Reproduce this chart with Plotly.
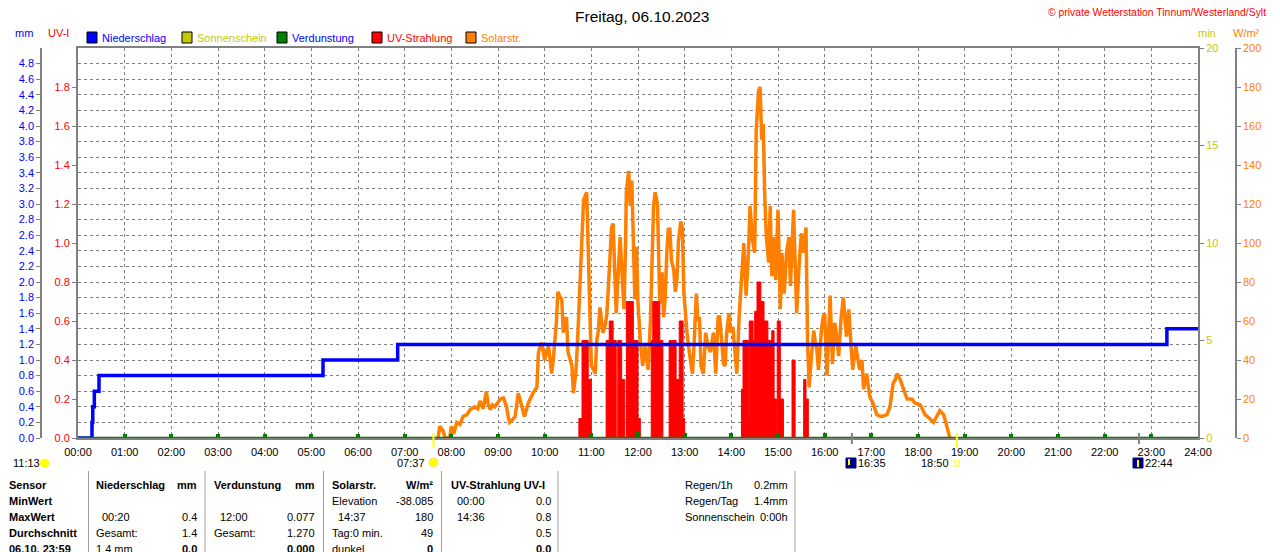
"""Tagesgrafik der Wetterstation Tinnum: Regen, Verdunstung, UV und Solarstrahlung."""

import plotly.graph_objects as go

OFF = 8  # page body margin in the browser
W, H = 1280 - OFF, 552 - OFF
PL, PR, PT, PB = 78, 1198, 48, 438  # plot box in reference pixels
FONT = "Liberation Sans, Arial, sans-serif"

BLUE = "#0000ff"
OLIVE = "#c8c800"
GREEN = "#008000"
RED = "#ff0000"
ORANGE = "#ff8000"
GREY = "#808080"
CLEAR = "rgba(0,0,0,0)"

# --- data (times in minutes after midnight) ---------------------------------
hour_ticks = [0, 60, 120, 180, 240, 300, 360, 420, 480, 540, 600, 660, 720,
              780, 840, 900, 960, 1020, 1080, 1140, 1200, 1260, 1320, 1380, 1440]
hour_labels = ["00:00", "01:00", "02:00", "03:00", "04:00", "05:00", "06:00",
               "07:00", "08:00", "09:00", "10:00", "11:00", "12:00", "13:00",
               "14:00", "15:00", "16:00", "17:00", "18:00", "19:00", "20:00",
               "21:00", "22:00", "23:00", "24:00"]

# sunshine minutes per hour (none today)
sun_min = [0, 0, 0, 0, 0, 0, 0, 0, 0, 0, 0, 0, 0,
           0, 0, 0, 0, 0, 0, 0, 0, 0, 0, 0, 0]

# solar radiation W/m² while the sensor reads above zero
solar_t = [463, 465, 469, 472, 478, 480, 483, 487, 491, 495, 500, 504,
           510, 514, 517, 521, 525, 527, 530, 533, 536, 540, 543, 547, 551, 553,
           555, 558, 562, 566, 570, 574, 579, 585, 590, 592, 596, 600, 603, 605,
           609, 611, 615, 617, 619, 622, 624, 626, 628, 630, 633, 635, 637, 640,
           642, 645, 648, 650, 652, 654, 656, 658, 660, 663, 665, 667, 669, 671,
           673, 675, 678, 680, 682, 684, 686, 688, 690, 692, 694, 697, 699, 702,
           704, 705, 708, 710, 712, 714, 716, 718, 720, 723, 726, 729, 731, 733,
           736, 738, 740, 742, 745, 748, 751, 753, 755, 757, 759, 761, 763, 766,
           768, 770, 772, 775, 777, 779, 781, 783, 786, 788, 790, 792, 795, 797,
           799, 801, 804, 807, 810, 813, 815, 817, 820, 823, 825, 828, 830, 832,
           834, 837, 839, 842, 845, 847, 850, 853, 856, 859, 862, 864, 867, 870,
           872, 875, 877, 879, 881, 883, 885, 888, 890, 892, 894, 897, 900, 903,
           905, 908, 911, 914, 916, 920, 924, 927, 930, 933, 936, 938, 940, 943,
           946, 948, 950, 952, 954, 956, 958, 960, 963, 965, 967, 970, 973, 976,
           978, 981, 984, 988, 991, 994, 996, 1000, 1005, 1008, 1010, 1014, 1018,
           1022, 1027, 1033, 1040, 1044, 1048, 1051, 1053, 1057, 1061, 1066, 1072,
           1076, 1083, 1089, 1095, 1100, 1104, 1108, 1113, 1117, 1120, 1121]
solar_w = [0, 6, 4, 0, 0, 6, 2, 8, 7, 11, 12, 14.5,
           16, 15, 19, 15, 24, 18, 14.5, 17, 16, 18, 20, 20.5, 16, 11,
           8, 9, 11, 23, 16, 11, 18, 23, 26, 44, 49, 40, 45, 47,
           33, 40, 59, 75, 73, 71, 54, 60, 62, 44, 40, 37, 23, 33,
           47, 79, 112, 122, 124, 126, 97, 66, 37, 35, 33, 50, 55, 67,
           60, 54, 58, 64, 78, 95, 108, 110, 86, 64, 80, 103, 88, 66,
           100, 126, 137, 119, 132, 102, 71, 98, 69, 50, 37, 47, 40, 35,
           60, 86, 119, 126, 120, 69, 85, 62, 72, 95, 107, 107, 91, 86,
           75, 81, 101, 111, 108, 74, 62, 54, 44, 38, 33, 47, 74, 60,
           62, 37, 33, 54, 47, 44, 50, 54, 33, 62, 62, 50, 38, 37,
           54, 64, 54, 57, 44, 33, 62, 81, 100, 73, 95, 119, 102, 95,
           158, 178, 180, 153, 161, 124, 103, 90, 119, 83, 103, 81, 117, 66,
           95, 74, 95, 103, 78, 117, 64, 88, 105, 95, 108, 50, 26, 42,
           55, 49, 45, 35, 47, 56, 62, 64, 32, 60, 73, 38, 59, 50,
           42, 61, 72, 52, 66, 47, 35, 47, 35, 40, 25, 33, 21,
           18, 12, 11, 12, 16, 28, 30, 33, 30, 26, 20, 20,
           18, 17, 12, 10, 8, 11, 14, 12, 6, 2, 0]

# UV index, step values (each holds until the next time)
uv_t = [0, 644, 648, 656, 660, 679, 683, 688, 692, 694, 699, 703, 705, 714,
        720, 723, 737, 739, 748, 752, 760, 769, 773, 778, 780, 853, 855, 862,
        863, 868, 870, 873, 878, 882, 887, 892, 895, 898, 899, 903, 907, 918,
        922, 933, 936, 939, 1440]
uv_v = [0, 0.1, 0.5, 0.3, 0, 0.5, 0.6, 0.5, 0, 0.5, 0.3, 0, 0.7, 0.5,
        0.1, 0, 0.5, 0.7, 0.5, 0, 0.5, 0.3, 0.6, 0.1, 0, 0.25, 0.5, 0.1,
        0.6, 0.5, 0.65, 0.8, 0.7, 0.6, 0.5, 0.55, 0.2, 0, 0.6, 0.2, 0, 0.4,
        0, 0.3, 0.2, 0, 0]

# cumulative rain, mm
rain_t = [0, 17, 18, 19, 21, 27, 315, 411, 1400, 1440]
rain_mm = [0, 0, 0.2, 0.4, 0.6, 0.8, 1.0, 1.2, 1.4, 1.4]

# hourly evaporation, mm
evap_t = [60, 120, 180, 240, 300, 360, 420, 480, 540, 600, 660, 720, 780,
          840, 900, 960, 1020, 1080, 1140, 1200, 1260, 1320, 1380]
evap_mm = [0.045, 0.045, 0.045, 0.045, 0.045, 0.045, 0.045, 0.045, 0.05,
           0.055, 0.065, 0.077, 0.07, 0.065, 0.065, 0.06, 0.06, 0.055, 0.05,
           0.045, 0.045, 0.045, 0.045]

sun_times = [457, 1130]      # 07:37, 18:50
moon_times = [995, 1364]     # 16:35, 22:44

mm_ticks = [0.0, 0.2, 0.4, 0.6, 0.8, 1.0, 1.2, 1.4, 1.6, 1.8, 2.0, 2.2, 2.4,
            2.6, 2.8, 3.0, 3.2, 3.4, 3.6, 3.8, 4.0, 4.2, 4.4, 4.6, 4.8]
uv_ticks = [0.0, 0.2, 0.4, 0.6, 0.8, 1.0, 1.2, 1.4, 1.6, 1.8]
min_ticks = [0, 5, 10, 15, 20]
wm2_ticks = [0, 20, 40, 60, 80, 100, 120, 140, 160, 180, 200]

legend_names = ["Niederschlag", "Sonnenschein", "Verdunstung", "UV-Strahlung", "Solarstr."]
legend_fill = [BLUE, OLIVE, GREEN, RED, ORANGE]
legend_text = [BLUE, OLIVE, BLUE, RED, ORANGE]

table_rows = ["Sensor", "MinWert", "MaxWert", "Durchschnitt", "06.10. 23:59"]
rain_col = [("Niederschlag", "mm"), ("", ""), ("00:20", "0.4"), ("Gesamt:", "1.4"), ("1.4 mm", "0.0")]
evap_col = [("Verdunstung", "mm"), ("", ""), ("12:00", "0.077"), ("Gesamt:", "1.270"), ("", "0.000")]
solar_col = [("Solarstr.", "W/m²"), ("Elevation", "-38.085"), ("14:37", "180"), ("Tag:0 min.", "49"), ("dunkel", "0")]
uv_col = [("UV-Strahlung UV-I", ""), ("00:00", "0.0"), ("14:36", "0.8"), ("", "0.5"), ("", "0.0")]
extra_rows = [("Regen/1h", "0.2mm"), ("Regen/Tag", "1.4mm"), ("Sonnenschein", "0:00h")]


def fx(x):
    """Reference pixel x -> paper x."""
    return (x - OFF) / W


def fy(y):
    """Reference pixel y -> paper y."""
    return (PB - y) / (PB - PT)


def text(x, y, s, color="black", anchor="left", size=11, bold=False):
    return dict(
        xref="paper", yref="paper", x=fx(x), y=fy(y),
        text=f"<b>{s}</b>" if bold else s, showarrow=False,
        xanchor=anchor, yanchor="middle",
        font=dict(family=FONT, size=size, color=color),
    )


def box(x0, y0, x1, y1, fill, line="black", width=1, kind="rect"):
    return dict(type=kind, xref="paper", yref="paper",
                x0=fx(x0), x1=fx(x1), y0=fy(y1), y1=fy(y0),
                fillcolor=fill, line=dict(color=line, width=width))


def vline(x, y0, y1, color=GREY, width=1):
    return dict(type="line", xref="paper", yref="paper",
                x0=fx(x), x1=fx(x), y0=fy(y0), y1=fy(y1),
                line=dict(color=color, width=width))


fig = go.Figure()

# base subplot: sunshine minutes (keeps the main subplot below the overlays)
fig.add_trace(go.Scatter(x=hour_ticks, y=sun_min, yaxis="y", mode="lines",
                         line=dict(color=OLIVE, width=1), hoverinfo="skip"))
fig.add_trace(go.Scatter(x=solar_t, y=solar_w, yaxis="y2", mode="lines",
                         line=dict(color=ORANGE, width=3.5), hoverinfo="skip"))
fig.add_trace(go.Scatter(x=uv_t, y=uv_v, yaxis="y3", mode="lines",
                         line=dict(color=RED, width=1, shape="hv"),
                         fill="tozeroy", fillcolor=RED, hoverinfo="skip"))
fig.add_trace(go.Scatter(x=rain_t, y=rain_mm, yaxis="y4", mode="lines",
                         line=dict(color=BLUE, width=3.5, shape="hv"), hoverinfo="skip"))
fig.add_trace(go.Bar(x=evap_t, y=evap_mm, yaxis="y4", width=5,
                     marker=dict(color=GREEN, line=dict(width=0)), hoverinfo="skip"))
fig.add_trace(go.Scatter(x=[0, 1440], y=[0, 0], yaxis="y4", mode="lines",
                         line=dict(color=GREEN, width=2.5), hoverinfo="skip"))

axis_font = dict(family=FONT, size=11)

fig.update_layout(
    template="none",
    width=W, height=H,
    margin=dict(l=0, r=0, t=PT - OFF, b=552 - PB, pad=0),
    paper_bgcolor="white", plot_bgcolor=CLEAR,
    showlegend=False, bargap=0, autosize=False,
    xaxis=dict(
        domain=[fx(PL), fx(PR)], range=[0, 1440], automargin=False,
        tickvals=hour_ticks, ticktext=hour_labels, ticks="",
        ticklabelstandoff=3,
        tickfont=dict(family=FONT, size=11, color="black"),
        showgrid=True, gridcolor=GREY, griddash="3px,3px", gridwidth=1,
        showline=True, mirror=True, linecolor=GREY, linewidth=2,
        zeroline=False,
    ),
    yaxis=dict(  # minutes of sunshine, right frame
        range=[0, 20], side="right", anchor="x", automargin=False,
        tickvals=min_ticks, ticks="outside", ticklen=4, tickcolor=GREY,
        tickfont=dict(axis_font, color=OLIVE),
        showgrid=False, zeroline=False,
        showline=True, mirror=True, linecolor=GREY, linewidth=2,
    ),
    yaxis2=dict(  # W/m²
        range=[0, 200], overlaying="y", side="right", anchor="free",
        position=fx(1236), automargin=False,
        tickvals=wm2_ticks, ticks="outside", ticklen=4,
        tickcolor=GREY, tickfont=dict(axis_font, color=ORANGE),
        showgrid=False, zeroline=False,
        showline=True, linecolor=GREY, linewidth=1.5,
    ),
    yaxis3=dict(  # UV index
        range=[0, 2], overlaying="y", side="left", anchor="x", automargin=False,
        tickvals=uv_ticks, tickformat=".1f", ticks="outside", ticklen=5,
        tickcolor=GREY, tickfont=dict(axis_font, color=RED),
        showgrid=False, zeroline=False, showline=False,
    ),
    yaxis4=dict(  # mm
        range=[0, 5], overlaying="y", side="left", anchor="free",
        position=fx(41), automargin=False,
        tickvals=mm_ticks, tickformat=".1f",
        ticks="outside", ticklen=4, tickcolor=GREY,
        tickfont=dict(axis_font, color=BLUE),
        showgrid=True, gridcolor=GREY, griddash="3px,3px", gridwidth=1,
        zeroline=False, showline=True, linecolor=GREY, linewidth=1.5,
    ),
)

ann = []
shapes = []

# header
ann.append(text(642, 16, "Freitag, 06.10.2023", anchor="center", size=15.5))
ann.append(text(1046, 12, "© private Wetterstation Tinnum/Westerland/Sylt",
                color=RED, size=10.4))
ann.append(text(13, 33, "mm", color=BLUE))
ann.append(text(46, 33, "UV-I", color=RED))
ann.append(text(1196, 33, "min", color=OLIVE))
ann.append(text(1231, 33, "W/m²", color=ORANGE))

leg_x = [87, 182, 277, 372, 466]
for lx, name, fill, col in zip(leg_x, legend_names, legend_fill, legend_text):
    shapes.append(box(lx, 32, lx + 10, 43, fill))
    ann.append(text(lx + 13, 38, name, color=col))

# sun / moon marks below the axis
for t in sun_times:
    x = PL + t * (PR - PL) / 1440
    shapes.append(vline(x, 433, 447, color="#ffff00", width=2))
for t in moon_times:
    x = PL + t * (PR - PL) / 1440
    shapes.append(vline(x, 433, 444, color=GREY, width=2))

ann.append(text(11, 463, "11:13"))
shapes.append(box(40, 459, 49, 467, "#ffff00", line="#ffff00", kind="circle"))
ann.append(text(427, 463, "07:37", anchor="right"))
shapes.append(box(429, 458, 438, 467, "#ffff00", line="#ffe060", kind="circle"))
shapes.append(box(846, 458, 856, 468, "#000080", line="#000080"))
shapes.append(vline(849, 459, 465, color="#ffff00", width=2))
ann.append(text(856, 463, "16:35"))
ann.append(text(951, 463, "18:50", anchor="right"))
shapes.append(box(954, 460, 959, 466, "white", line="#ffff00"))
shapes.append(box(1133, 458, 1143, 468, "#000080", line="#000080"))
shapes.append(vline(1138, 460, 467, color="#ffff00", width=2))
ann.append(text(1143, 463, "22:44"))

# statistics table
row_y = [485, 501, 517, 533, 549]
for y, name in zip(row_y, table_rows):
    ann.append(text(7, y, name, bold=True))

blocks = [(94, 199, rain_col), (212, 317, evap_col), (330, 435, solar_col), (449, 553, uv_col)]
for left, right, col in blocks:
    for i, (y, (lt, rt)) in enumerate(zip(row_y, col)):
        header = i == 0
        last = i == len(col) - 1
        indent = 6 if ":" in lt and lt[0].isdigit() else 0
        if lt:
            ann.append(text(left + indent, y, lt, bold=header))
        if rt:
            ann.append(text(right, y, rt, anchor="right", bold=header or last))

for y, (lt, rt) in zip(row_y, extra_rows):
    ann.append(text(683, y, lt))
    ann.append(text(790, y, rt, anchor="right"))

for x in [88.5, 205, 323.5, 441.5, 558, 795]:
    shapes.append(vline(x, 471, 553, color="#a0a0a0", width=1))

fig.update_layout(annotations=ann, shapes=shapes)

fig.write_html("out.html")
